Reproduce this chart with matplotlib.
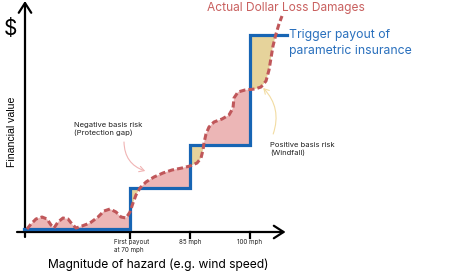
import numpy as np
import matplotlib
matplotlib.use("Agg")
import matplotlib.pyplot as plt

# ---------------- data ----------------
# wind speed (mph) at which payouts trigger and payout levels (base + each step)
trigger_mph = [70, 85, 100]
payout_levels = [3, 44, 87, 197]
payout_start, payout_end = 43.5, 109.25

# actual dollar loss damages curve (mph, value)
loss_mph = [44.25, 45.25, 46.5, 48.0, 49.25, 50.25, 51.0, 52.0, 53.25, 54.5,
            55.5, 56.5, 58.0, 60.0, 62.0, 63.5, 65.0, 66.5, 67.75, 69.0,
            70.0, 70.75, 71.5, 72.5, 74.0, 76.0, 78.25, 80.5, 83.0, 85.0,
            86.75, 87.75, 88.25, 88.5, 89.0, 89.75, 91.0, 93.0, 94.75, 95.75,
            96.0, 97.0, 98.75, 101.25, 102.75, 104.0, 104.75, 105.25, 105.75,
            106.5, 107.25, 108.0]
loss_val = [3, 8, 13, 15, 13, 7, 4, 10, 14, 13,
            8, 4, 6, 9, 15, 21, 23, 20, 15, 14,
            20, 29, 37, 44, 50, 55, 59, 62, 64, 66,
            69, 74, 82, 89, 98, 105, 110, 113, 117, 124,
            134, 140, 142, 143, 145, 151, 162, 174, 186,
            198, 208, 216]

tick_labels = ["First payout\nat 70 mph", "85 mph", "100 mph"]

# ---------------- style ----------------
RED = "#c0575a"
BLUE = "#1765b4"
PINK = "#ecb6b6"
TAN = "#e6d39b"

fig = plt.figure(figsize=(4.49, 2.71), dpi=100)
ax = fig.add_axes([0, 0, 1, 1])
ax.set_xlim(37.5, 149.75)
ax.set_ylim(-39, 232)
ax.axis("off")

cx = np.array(loss_mph, float)
cy = np.array(loss_val, float)
lv = np.array(payout_levels, float)

# fills between loss curve and payout step
mask = cx > trigger_mph[-1]
x_end = np.interp(payout_levels[-1], cy[mask], cx[mask])
xg = np.linspace(cx[0], x_end, 3000)
xg = np.sort(np.concatenate([xg, np.array(trigger_mph) - 1e-6, np.array(trigger_mph)]))
yc = np.interp(xg, cx, cy)
ys = lv[np.searchsorted(trigger_mph, xg, side="right")]
ax.fill_between(xg, yc, ys, where=yc >= ys, interpolate=True, color=PINK, lw=0, zorder=1)
ax.fill_between(xg, yc, ys, where=yc <= ys, interpolate=True, color=TAN, lw=0, zorder=1)

# axes arrows
ax.annotate("", xy=(43.75, 231), xytext=(43.75, -5),
            arrowprops=dict(arrowstyle="->,head_length=0.7,head_width=0.45", lw=1.6, color="black",
                            shrinkA=0, shrinkB=0), zorder=2)
ax.annotate("", xy=(108.9, 0), xytext=(41.75, 0),
            arrowprops=dict(arrowstyle="->,head_length=0.7,head_width=0.45", lw=1.6, color="black",
                            shrinkA=0, shrinkB=0), zorder=2)
for t in trigger_mph:
    ax.plot([t, t], [0, -5.5], color="black", lw=1.6, zorder=2)

# payout step
step_x = [payout_start] + trigger_mph + [payout_end]
step_y = payout_levels + [payout_levels[-1]]
ax.step(step_x, step_y, where="post", color=BLUE, lw=2.3, zorder=3,
        solid_joinstyle="miter")

# loss curve
ax.plot(cx, cy, color=RED, lw=2.2, linestyle=(0, (2.0, 1.0)), zorder=4,
        dash_capstyle="butt")

# texts
ax.text(40, 203, "$", fontsize=15, ha="center", va="center", family="Inter")
ax.text(40.6, 100, "Financial value", rotation=90, fontsize=7.6, ha="center",
        va="center", family="Liberation Sans")
ax.text(77, -33, "Magnitude of hazard (e.g. wind speed)", fontsize=8.7,
        ha="center", va="center", family="Inter")
ax.text(89.3, 224, "Actual Dollar Loss Damages", fontsize=8.6, color="#c9605f",
        ha="left", va="center", family="Inter")
ax.text(109.8, 189, "Trigger payout of\nparametric insurance", fontsize=8.8,
        color="#2a70bd", ha="left", va="center", family="Inter", linespacing=1.35)
ax.text(56, 103, "Negative basis risk\n(Protection gap)", fontsize=5.5,
        ha="left", va="center", family="Inter", color="#222222", linespacing=1.35)
ax.text(105, 83, "Positive basis risk\n(Windfall)", fontsize=5.5,
        ha="left", va="center", family="Inter", color="#222222", linespacing=1.35)

ax.text(65.9, -7, tick_labels[0], fontsize=4.5, ha="left", va="top",
        family="Inter", linespacing=1.35, color="#222222")
for t, lab in zip(trigger_mph[1:], tick_labels[1:]):
    ax.text(t, -7, lab, fontsize=4.5, ha="center", va="top", family="Inter",
            color="#222222")

# annotation arrows
ax.annotate("", xy=(73.8, 61), xytext=(68.5, 90),
            arrowprops=dict(arrowstyle="->,head_length=0.35,head_width=0.2", lw=0.8,
                            color="#f0b4b4", connectionstyle="arc3,rad=0.35",
                            shrinkA=0, shrinkB=0))
ax.annotate("", xy=(103.3, 144), xytext=(105.8, 98),
            arrowprops=dict(arrowstyle="->,head_length=0.35,head_width=0.2", lw=0.8,
                            color="#f2dca2", connectionstyle="arc3,rad=0.3",
                            shrinkA=0, shrinkB=0))

fig.savefig("out.png", dpi=100)
